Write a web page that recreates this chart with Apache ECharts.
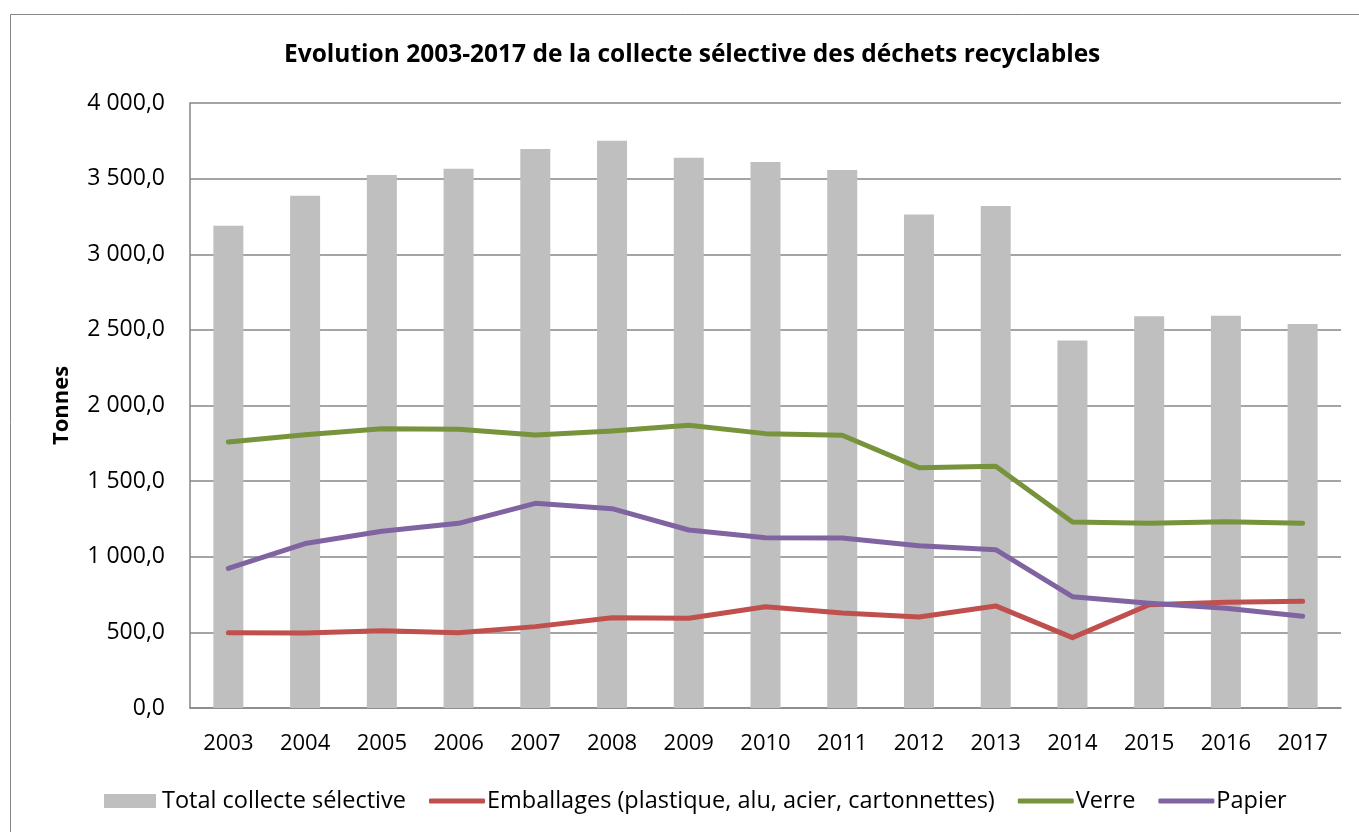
<!DOCTYPE html>
<html>
<head>
<meta charset="utf-8">
<script src="https://cdn.jsdelivr.net/npm/echarts@6/dist/echarts.min.js"></script>
<style>html,body{margin:0;padding:0;background:#fff}#c{width:1359px;height:832px}</style>
</head>
<body>
<div id="c"></div>
<script>
const years = ['2003','2004','2005','2006','2007','2008','2009','2010','2011','2012','2013','2014','2015','2016','2017'];
const total = [3189,3387,3524,3566,3696,3751,3638,3610,3557,3262,3319,2429,2590,2594,2539];
const emballages = [498,496,510,498,538,597,593,669,628,602,675,465,683,699,705];
const verre = [1759,1807,1847,1843,1805,1832,1869,1814,1803,1589,1598,1230,1221,1232,1221];
const papier = [923,1087,1168,1221,1353,1318,1177,1125,1124,1073,1047,736,692,659,606];
const seriesNames = ['Total collecte sélective','Emballages (plastique, alu, acier, cartonnettes)','Verre','Papier'];
const titleText = 'Evolution 2003-2017 de la collecte sélective des déchets recyclables';
const yName = 'Tonnes';

const FONT = '"Open Sans", "Noto Sans", sans-serif';
function fmt(v){
  const s = v.toFixed(1).split('.');
  const intp = s[0].replace(/\B(?=(\d{3})+(?!\d))/g,' ');
  return intp + ',' + s[1];
}
const chart = echarts.init(document.getElementById('c'));
chart.setOption({
  animation:false,
  backgroundColor:'#fff',
  textStyle:{fontFamily:FONT},
  graphic:[{type:'rect',shape:{x:10.5,y:14.5,width:1400,height:900},style:{fill:'none',stroke:'#868686',lineWidth:1}}],
  title:{text:titleText,left:279,top:38,textStyle:{fontFamily:FONT,fontSize:24.5,fontWeight:'bold',color:'#000'}},
  grid:{left:190,right:18,top:103,bottom:124,containLabel:false},
  legend:[
    {
      left:104,top:789,padding:0,itemWidth:52,itemHeight:14,
      textStyle:{fontFamily:FONT,fontSize:23.5,color:'#000',padding:[0,0,0,1]},
      data:[{name:seriesNames[0],icon:'rect'}]
    },
    {
      left:429,top:789,padding:0,itemWidth:56,itemHeight:5,itemGap:23,icon:'roundRect',
      textStyle:{fontFamily:FONT,fontSize:23.5,color:'#000',padding:[0,0,0,-3]},
      data:[seriesNames[1],seriesNames[2],seriesNames[3]]
    }
  ],
  xAxis:{type:'category',data:years,
    axisLine:{lineStyle:{color:'#868686',width:1.5}},axisTick:{show:false},
    axisLabel:{fontFamily:FONT,fontSize:22,color:'#000',margin:25}},
  yAxis:{type:'value',min:0,max:4000,interval:500,
    name:yName,nameLocation:'middle',nameRotate:90,nameGap:117,
    nameTextStyle:{fontFamily:FONT,fontSize:22,fontWeight:'bold',color:'#000'},
    axisLine:{show:true,lineStyle:{color:'#868686',width:1.5}},axisTick:{show:false},
    splitLine:{lineStyle:{color:'#868686',width:1.5}},
    axisLabel:{fontFamily:FONT,fontSize:23,color:'#000',margin:25,formatter:fmt}},
  series:[
    {name:seriesNames[0],type:'bar',data:total,barWidth:30,itemStyle:{color:'#BFBFBF'},z:1},
    {name:seriesNames[1],type:'line',data:emballages,symbol:'none',lineStyle:{color:'#C0504D',width:5,cap:'round',join:'round'},itemStyle:{color:'#C0504D'},z:3},
    {name:seriesNames[2],type:'line',data:verre,symbol:'none',lineStyle:{color:'#77933C',width:5,cap:'round',join:'round'},itemStyle:{color:'#77933C'},z:3},
    {name:seriesNames[3],type:'line',data:papier,symbol:'none',lineStyle:{color:'#8064A2',width:5,cap:'round',join:'round'},itemStyle:{color:'#8064A2'},z:3}
  ]
});
</script>
</body>
</html>
